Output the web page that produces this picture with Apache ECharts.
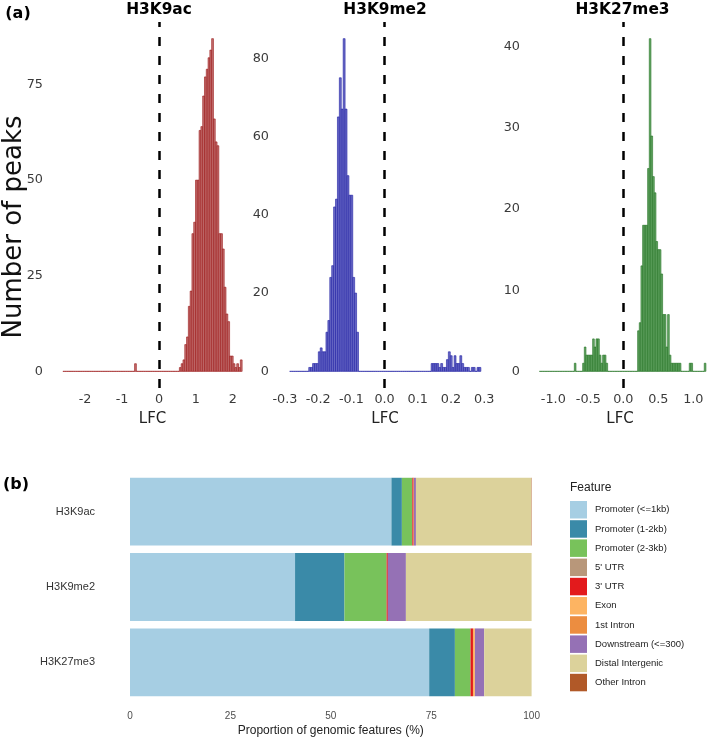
<!DOCTYPE html>
<html><head><meta charset="utf-8">
<script src="https://cdn.jsdelivr.net/npm/echarts@6/dist/echarts.min.js"></script>
<style>html,body{margin:0;padding:0;background:#fff}#c{width:709px;height:741px}</style>
</head><body><div id="c"></div>
<script>
// ---------- Panel (a): histograms of LFC (100 bins each) ----------
const k9acStart = -2.6, k9acWidth = 0.0485;
const k9acCounts = [
  0,0,0,0,0,0,0,0,0,0,
  0,0,0,0,0,0,0,0,0,0,
  0,0,0,0,0,0,0,0,0,0,
  0,0,0,0,0,0,0,0,0,0,
  2,0,0,0,0,0,0,0,0,0,
  0,0,0,0,0,0,0,0,0,0,
  0,0,0,0,0,1,2,3,7,9,
  17,21,36,39,50,50,63,64,72,77,
  79,82,84,87,66,60,59,36,36,32,
  22,15,13,4,4,2,1,2,1,3
];
const k9me2Start = -0.286, k9me2Width = 0.00576;
const k9me2Counts = [
  0,0,0,0,0,0,0,0,0,0,
  1,1,2,2,2,5,6,5,5,10,
  13,24,27,42,44,65,75,67,85,67,
  50,45,45,24,20,10,0,0,0,0,
  0,0,0,0,0,0,0,0,0,0,
  0,0,0,0,0,0,0,0,0,0,
  0,0,0,0,0,0,0,0,0,0,
  0,0,0,0,2,2,2,2,1,2,
  1,1,3,5,4,1,4,2,2,4,
  2,1,1,1,0,1,1,0,1,1
];
const k27Start = -1.2, k27Width = 0.0238;
const k27Counts = [
  0,0,0,0,0,0,0,0,0,0,
  0,0,0,0,0,0,0,0,0,0,
  0,1,0,0,0,0,1,3,2,2,
  2,2,4,3,4,4,2,1,2,2,
  1,0,0,0,0,0,0,0,0,0,
  0,0,0,0,0,0,0,0,0,5,
  6,13,18,18,18,25,41,29,24,22,
  16,15,15,12,7,7,3,7,2,1,
  1,1,1,1,1,0,0,0,0,0,
  1,1,0,0,0,0,0,0,0,1
];
const histTitles = ['H3K9ac', 'H3K9me2', 'H3K27me3'];
const k9acXTicks = [-2, -1, 0, 1, 2];
const k9me2XTicks = [-0.3, -0.2, -0.1, 0, 0.1, 0.2, 0.3];
const k27XTicks = [-1, -0.5, 0, 0.5, 1];
const k9acYTicks = [0, 25, 50, 75];
const k9me2YTicks = [0, 20, 40, 60, 80];
const k27YTicks = [0, 10, 20, 30, 40];

// ---------- Panel (b): genomic feature proportions ----------
const marks = ['H3K9ac', 'H3K9me2', 'H3K27me3'];
const features = ['Promoter (<=1kb)', 'Promoter (1-2kb)', 'Promoter (2-3kb)', "5' UTR", "3' UTR",
  'Exon', '1st Intron', 'Downstream (<=300)', 'Distal Intergenic', 'Other Intron'];
const pctK9ac  = [65.1, 2.6, 2.6, 0, 0.3, 0, 0.1, 0.5, 28.7, 0.1];
const pctK9me2 = [41.1, 12.3, 10.5, 0, 0.3, 0, 0, 4.5, 31.3, 0];
const pctK27   = [74.5, 6.4, 3.9, 0, 0.6, 0.4, 0.1, 2.3, 11.8, 0];
const propTicks = [0, 25, 50, 75, 100];

// ---------- styling ----------
const featureColors = ['#a6cee3','#3a8aa8','#78c25b','#b8977a','#e31a1c','#fdb462','#ec8d40','#9571b5','#dcd29b','#b15928'];
const FA = 'DejaVu Sans', FB = 'Liberation Sans';

function bins(start, w, counts) {
  return counts.map((c, i) => [start + i * w, start + (i + 1) * w, c]);
}
function histRender(fill, stroke) {
  return function (params, api) {
    const p1 = api.coord([api.value(0), api.value(2)]);
    const p2 = api.coord([api.value(1), 0]);
    return {
      type: 'rect',
      shape: { x: p1[0], y: p1[1], width: p2[0] - p1[0], height: p2[1] - p1[1] },
      style: { fill: fill, stroke: stroke, lineWidth: 0.6 }
    };
  };
}
function histX(idx, min, max, ticks, dec) {
  return {
    type: 'value', gridIndex: idx, min: min, max: max,
    axisLine: { show: false }, axisTick: { show: false }, splitLine: { show: false },
    axisLabel: { customValues: ticks, margin: 5.5, fontSize: 12.8, color: '#3a3a3a', fontFamily: FA,
      formatter: v => v.toFixed(dec) },
    name: 'LFC', nameLocation: 'middle', nameGap: 24,
    nameTextStyle: { fontSize: 15, color: '#222', fontFamily: FA }
  };
}
function histY(idx, counts, ticks) {
  const m = Math.max(...counts);
  return {
    type: 'value', gridIndex: idx, min: -0.05 * m, max: 1.05 * m,
    axisLine: { show: false }, axisTick: { show: false }, splitLine: { show: false },
    axisLabel: { customValues: ticks, margin: 11, fontSize: 12.8, color: '#3a3a3a', fontFamily: FA,
      formatter: v => String(v) }
  };
}
function histSeries(idx, data, fill, stroke) {
  return {
    type: 'custom', xAxisIndex: idx, yAxisIndex: idx, data: data,
    encode: { x: [0, 1], y: 2 }, renderItem: histRender(fill, stroke), clip: true, silent: true,
    markLine: { silent: true, symbol: 'none', label: { show: false },
      lineStyle: { color: '#000', type: [9, 10], width: 2.5 }, data: [{ xAxis: 0 }] }
  };
}

const barSeries = features.map((f, i) => ({
  name: f, type: 'bar', stack: 'total', xAxisIndex: 3, yAxisIndex: 3,
  barCategoryGap: '10%', itemStyle: { color: featureColors[i] }, silent: true,
  data: [pctK9ac[i], pctK9me2[i], pctK27[i]]
}));

const option = {
  animation: false,
  backgroundColor: '#fff',
  grid: [
    { left: 54, top: 22, width: 197, height: 366 },
    { left: 280, top: 22, width: 210, height: 366 },
    { left: 531, top: 22, width: 178, height: 366 },
    { left: 130, top: 474, width: 401.6, height: 226 }
  ],
  xAxis: [
    histX(0, -2.84, 2.49, k9acXTicks, 0),
    histX(1, -0.315, 0.3175, k9me2XTicks, 1),
    histX(2, -1.319, 1.224, k27XTicks, 1),
    { type: 'value', gridIndex: 3, min: 0, max: 100,
      axisLine: { show: false }, axisTick: { show: false }, splitLine: { show: false },
      axisLabel: { customValues: propTicks, margin: 11, fontSize: 10, color: '#4d4d4d', fontFamily: FB },
      name: 'Proportion of genomic features (%)', nameLocation: 'middle', nameGap: 25,
      nameTextStyle: { fontSize: 12, color: '#222', fontFamily: FB } }
  ],
  yAxis: [
    histY(0, k9acCounts, k9acYTicks),
    histY(1, k9me2Counts, k9me2YTicks),
    histY(2, k27Counts, k27YTicks),
    { type: 'category', gridIndex: 3, data: marks, inverse: true,
      axisLine: { show: false }, axisTick: { show: false }, splitLine: { show: false },
      axisLabel: { margin: 35, fontSize: 11, color: '#333', fontFamily: FB } }
  ],
  legend: {
    data: features, orient: 'vertical', left: 570, top: 501, padding: 0,
    icon: 'rect', itemWidth: 17, itemHeight: 17.5, itemGap: 1.7, selectedMode: false,
    textStyle: { fontSize: 9.5, color: '#222', fontFamily: FB, padding: [0, 0, 0, 3] }
  },
  graphic: [
    { type: 'text', x: 18, y: 14, style: { text: '(a)', fontSize: 16, fontWeight: 'bold', fontFamily: FA, fill: '#000', align: 'center', verticalAlign: 'middle' } },
    { type: 'text', x: 16, y: 485, style: { text: '(b)', fontSize: 16, fontWeight: 'bold', fontFamily: FA, fill: '#000', align: 'center', verticalAlign: 'middle' } },
    { type: 'text', x: 159, y: 10, style: { text: histTitles[0], fontSize: 15.4, fontWeight: 'bold', fontFamily: FA, fill: '#000', align: 'center', verticalAlign: 'middle' } },
    { type: 'text', x: 385, y: 10, style: { text: histTitles[1], fontSize: 15.4, fontWeight: 'bold', fontFamily: FA, fill: '#000', align: 'center', verticalAlign: 'middle' } },
    { type: 'text', x: 622.5, y: 10, style: { text: histTitles[2], fontSize: 15.4, fontWeight: 'bold', fontFamily: FA, fill: '#000', align: 'center', verticalAlign: 'middle' } },
    { type: 'text', x: 14, y: 227, rotation: Math.PI / 2, style: { text: 'Number of peaks', fontSize: 26, fontFamily: FA, fill: '#111', align: 'center', verticalAlign: 'middle' } },
    { type: 'text', x: 570, y: 488, style: { text: 'Feature', fontSize: 12, fontFamily: FB, fill: '#222', align: 'left', verticalAlign: 'middle' } }
  ],
  series: [
    histSeries(0, bins(k9acStart, k9acWidth, k9acCounts), '#c27272', '#9a1414'),
    histSeries(1, bins(k9me2Start, k9me2Width, k9me2Counts), '#6c6cc6', '#1e1ea2'),
    histSeries(2, bins(k27Start, k27Width, k27Counts), '#6aa86a', '#1f701f')
  ].concat(barSeries)
};
echarts.init(document.getElementById('c'), null, { renderer: 'canvas' }).setOption(option);
</script></body></html>
